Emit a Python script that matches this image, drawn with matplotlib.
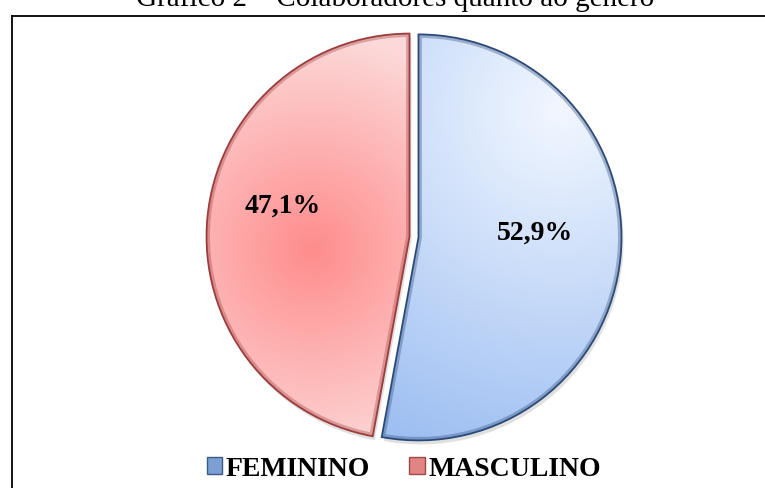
import numpy as np
import matplotlib.pyplot as plt
from matplotlib.lines import Line2D
from matplotlib.patches import Patch, Wedge

# data
categories = ['FEMININO', 'MASCULINO']
values = [52.9, 47.1]
labels = ['52,9%', '47,1%']
title = 'Gráfico 2 – Colaboradores quanto ao gênero'

W, H = 765, 489
fig = plt.figure(figsize=(W / 100, H / 100), dpi=100)
ax = fig.add_axes([0, 0, 1, 1])

cx, cy, r = 414, H - 238, 203
# explode is an offset in data units here (pixels)
wedges, _ = ax.pie(values, startangle=90, counterclock=False, center=(cx, cy),
                   radius=r, explode=[4.5, 4.5],
                   colors=['#c8dcf8', '#ffa8a8'],
                   wedgeprops=dict(linewidth=0))
ax.set_xlim(0, W)
ax.set_ylim(0, H)
ax.set_aspect('equal')
ax.axis('off')

# gradient fills clipped to each wedge
yy, xx = np.mgrid[0:H, 0:W]
def radial(c_light, c_dark, x0, y0, rad):
    d = np.clip(np.hypot(xx - x0, yy - y0) / rad, 0, 1)
    c1 = np.array(c_light); c2 = np.array(c_dark)
    return c1[None, None, :] * (1 - d[..., None]) + c2[None, None, :] * d[..., None]

blue_img = radial((0.95, 0.97, 1.0), (0.62, 0.75, 0.95), 560, 110, 360)
red_img = radial((1.0, 0.55, 0.55), (0.99, 0.85, 0.85), 312, 250, 215)

for wedge, img in zip(wedges, [blue_img, red_img]):
    im = ax.imshow(img, extent=(0, W, 0, H), origin='upper', zorder=2)
    im.set_clip_path(wedge)

# edges and shadow
edge_cols = ['#2c4a78', '#9c3c3c']
for wedge, ec in zip(wedges, edge_cols):
    th1, th2 = wedge.theta1, wedge.theta2
    (x0, y0), rr = wedge.center, wedge.r
    sh = Wedge((x0 + 2, y0 - 4), rr, th1, th2, facecolor='#000000',
               alpha=0.12, linewidth=0, zorder=1)
    ax.add_patch(sh)
    inner = Wedge((x0, y0), rr, th1, th2, fill=False, edgecolor=ec,
                  linewidth=5, alpha=0.35, zorder=3)
    ax.add_patch(inner)
    inner.set_clip_path(wedge)
    outer = Wedge((x0, y0), rr, th1, th2, fill=False, edgecolor=ec,
                  linewidth=1.3, zorder=4)
    ax.add_patch(outer)

# percentage labels
ax.text(535, H - 233, labels[0], ha='center', va='center', fontsize=20,
        fontweight='bold', family='Liberation Serif', zorder=5)
ax.text(283, H - 206, labels[1], ha='center', va='center', fontsize=20,
        fontweight='bold', family='Liberation Serif', zorder=5)

# frame lines
ax.add_line(Line2D([12, 12], [0, H - 17], color='black', lw=1.3))
ax.add_line(Line2D([12, W], [H - 17, H - 17], color='black', lw=1.3))

# title (cut at top as in the original)
ax.text(W / 2 + 13, H - 6, title, ha='center', va='baseline', fontsize=21,
        family='Liberation Serif', clip_on=False)

handles = [Patch(facecolor='#7d9fd4', edgecolor='#3a5a8a'),
           Patch(facecolor='#e08484', edgecolor='#a04848')]
ax.legend(handles, categories, loc='center', bbox_to_anchor=(0.528, (H - 470) / H),
          ncol=2, frameon=False, handlelength=0.55, handleheight=0.55,
          handletextpad=0.15, columnspacing=1.4,
          prop=dict(family='Liberation Serif', weight='bold', size=20))

fig.savefig('out.png', dpi=100)
